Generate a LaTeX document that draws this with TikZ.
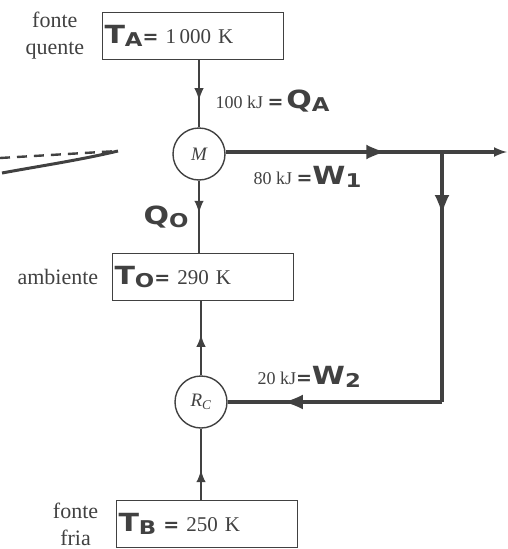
\documentclass[tikz,border=0pt]{standalone}
\usepackage{fontspec}
\usepackage{graphicx}
\setmainfont{Liberation Serif}
\newfontfamily\handfont{DejaVu Sans}
\usepackage{tikz}
\usetikzlibrary{arrows, positioning, decorations.markings}
\definecolor{inkgray}{RGB}{65, 65, 65}
% handwritten symbol with its index, and handwritten equals sign
\newcommand{\hw}[2]{{\handfont\bfseries\scalebox{1.2}[1]{\fontsize{25}{27}\selectfont #1\raisebox{-3pt}{\fontsize{19}{20}\selectfont #2}}}}
\newcommand{\hweq}{{\handfont\bfseries\fontsize{19}{20}\selectfont =}}

\begin{document}
\begin{tikzpicture}[
    x=1pt, y=-1pt,
    font=\fontsize{18}{22}\selectfont, text=inkgray,
    side/.style={align=center, font=\fontsize{22}{27}\selectfont},
    reservoir/.style={rectangle, draw=inkgray, line width=1.6pt, minimum width=181pt, minimum height=47pt, text width=177pt, inner xsep=2pt, align=left, font=\fontsize{21}{24}\selectfont},
    machine/.style={circle, draw=inkgray, line width=1.4pt, minimum size=52pt, inner sep=0pt, font=\fontsize{19}{21}\selectfont\itshape},
    heat/.style={draw=inkgray, line width=1.8pt, postaction={decorate}, decoration={markings, mark=at position #1 with {\arrow[scale=1.5]{latex}}}},
    work/.style={draw=inkgray, line width=3.4pt, postaction={decorate}, decoration={markings, mark=at position #1 with {\arrow[scale=1.5]{latex}}}}
]
    \useasboundingbox (0,0) rectangle (508,549);

    % reservoirs and machines
    \node[reservoir] (TA) at (193,36) {\hw{T}{A}\hweq\ 1\,000 K};
    \node[side, left=14pt of TA] (hot) {fonte\\quente};

    \node[machine] (M) at (199,154) {M};

    \node[reservoir] (T0) at (203,277) {\hw{T}{O}\hweq\ 290 K};
    \node[side, left=10pt of T0] (amb) {ambiente};

    \node[machine] (RC) at (201,402) {R\textsubscript{C}};

    \node[reservoir] (TB) at (207,524) {\hw{T}{B}\ \hweq\ 250 K};
    \node[side, left=14pt of TB] (cold) {fonte\\fria};

    \coordinate (J) at (442,152);
    \coordinate (out) at (507,152);
    \coordinate (K) at (442,402);

    % heat flows
    \draw[heat=0.6] (TA.south -| M) -- (M.north);
    \draw[heat=0.45] (M.south) -- (M |- T0.north);
    \draw[heat=0.55] (RC.north) -- (RC |- T0.south);
    \draw[heat=0.42] (RC |- TB.north) -- (RC.south);

    % work flows
    \draw[work=0.74] (M.east |- J) -- (J);
    \draw[draw=inkgray, line width=3.4pt, -latex] (J) -- (out);
    \draw[work=0.25] (J) -- (K);
    \draw[work=0.74] (K) -- (RC.east);

    % labels
    \node[anchor=west] (qa) at (212,101) {100 kJ \hweq\,\hw{Q}{A}};
    \node[anchor=west] (w1) at (250,177) {80 kJ \hweq\hw{W}{1}};
    \node[anchor=east] (q0) at (192,217) {\hw{Q}{O}};
    \node[anchor=west] (w2) at (254,377) {20 kJ\hweq\hw{W}{2}};

    % scribble on the left
    \draw[inkgray, line width=2.4pt, dash pattern=on 10pt off 7pt] (0,158) -- (118,151);
    \draw[inkgray, line width=3pt] (118,151) .. controls (80,160) and (40,166) .. (2,173);
\end{tikzpicture}
\end{document}
